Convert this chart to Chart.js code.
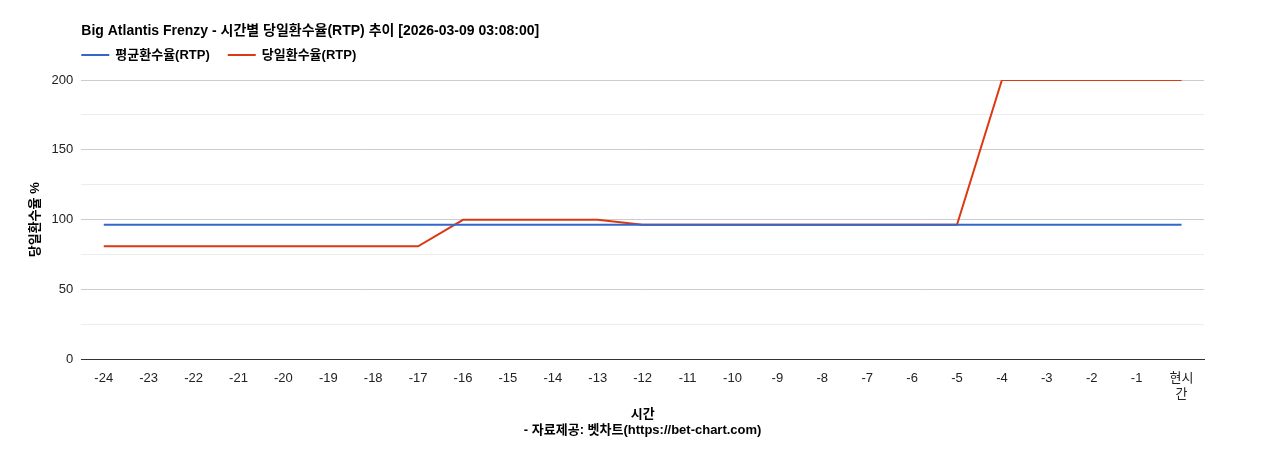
<!DOCTYPE html>
<html><head><meta charset="utf-8">
<script src="https://cdn.jsdelivr.net/npm/chart.js@4"></script>
<style>body{margin:0;background:#fff}#wrap{width:1268px;height:450px}</style>
</head><body><div id="wrap"><canvas id="c"></canvas></div>
<script>
const labels = ['-24','-23','-22','-21','-20','-19','-18','-17','-16','-15','-14','-13','-12','-11','-10','-9','-8','-7','-6','-5','-4','-3','-2','-1',['현시','간']];
const avgRtp = Array(25).fill(96.5);
const dayRtp = [81,81,81,81,81,81,81,81,100,100,100,100,96.5,96.5,96.5,96.5,96.5,96.5,96.5,96.5,200,200,200,200,200];
const titleText = 'Big Atlantis Frenzy - 시간별 당일환수율(RTP) 추이 [2026-03-09 03:08:00]';

Chart.defaults.font.family = "'Liberation Sans','Noto Sans CJK KR',sans-serif";
Chart.defaults.color = '#222';

// title + legend drawn from the chart area's left edge
const header = {
  id: 'header',
  afterDraw(chart) {
    const c = chart.ctx, left = chart.chartArea.left;
    c.save();
    c.fillStyle = '#000';
    c.textBaseline = 'middle';
    c.font = "bold 14px 'Liberation Sans','Noto Sans CJK KR',sans-serif";
    c.fillText(titleText, left, 31);
    c.font = "bold 13px 'Liberation Sans','Noto Sans CJK KR',sans-serif";
    let x = left;
    chart.data.datasets.forEach(ds => {
      c.strokeStyle = ds.borderColor; c.lineWidth = 2;
      c.beginPath(); c.moveTo(x, 55); c.lineTo(x + 28, 55); c.stroke();
      c.fillText(ds.label, x + 34, 55);
      x += 34 + c.measureText(ds.label).width + 18;
    });
    c.restore();
  }
};

new Chart(document.getElementById('c'), {
  type: 'line',
  data: {
    labels: labels,
    datasets: [
      { label: '평균환수율(RTP)', data: avgRtp, borderColor: '#3366cc', backgroundColor: '#3366cc', borderWidth: 2, pointRadius: 0, tension: 0 },
      { label: '당일환수율(RTP)', data: dayRtp, borderColor: '#dc3912', backgroundColor: '#dc3912', borderWidth: 2, pointRadius: 0, tension: 0 }
    ]
  },
  plugins: [header],
  options: {
    responsive: true, maintainAspectRatio: false, animation: false,
    layout: { padding: { left: 28, right: 64, top: 80, bottom: 8 } },
    plugins: { title: { display: false }, legend: { display: false }, tooltip: { enabled: false } },
    scales: {
      x: {
        offset: true,
        grid: { display: false },
        border: { color: '#333' },
        ticks: { color: '#222', font: { size: 13 }, maxRotation: 0, autoSkip: false },
        title: { display: true, text: ['시간', '- 자료제공: 벳차트(https://bet-chart.com)'], color: '#000', font: { size: 13, weight: 'bold' }, padding: { top: 2 } }
      },
      y: {
        min: 0, max: 200,
        grid: { color: ctx => ctx.tick.value % 50 === 0 ? '#cccccc' : '#ececec', drawTicks: false },
        border: { display: false },
        ticks: { stepSize: 25, padding: 8, color: '#222', font: { size: 13 }, callback: v => v % 50 === 0 ? v : '' },
        title: { display: true, text: '당일환수율 %', color: '#000', font: { size: 13, weight: 'bold' }, padding: 0 }
      }
    }
  }
});
</script></body></html>
